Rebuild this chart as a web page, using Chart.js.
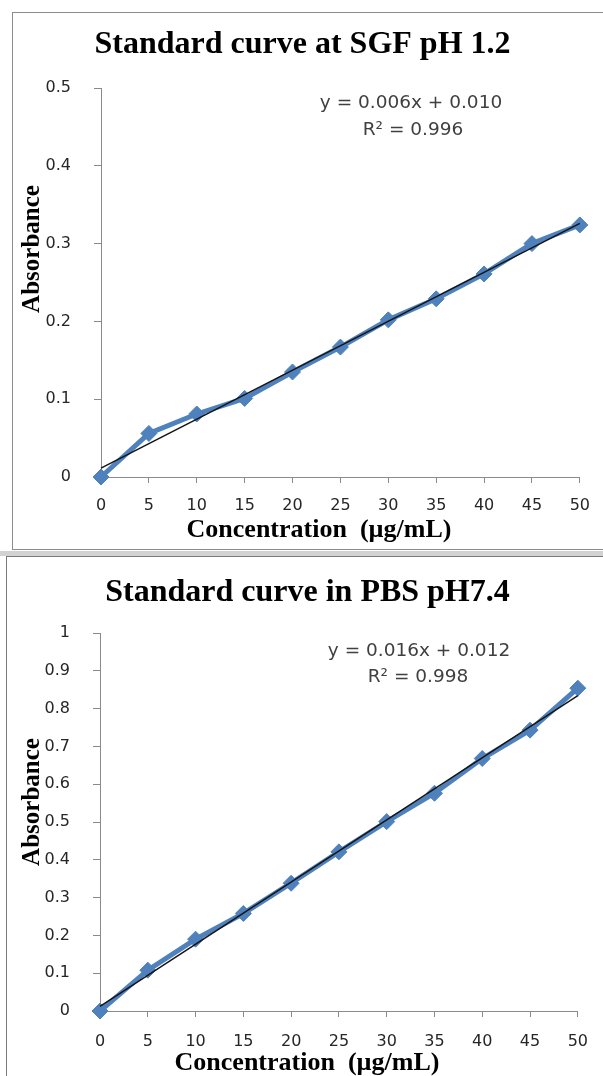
<!DOCTYPE html>
<html><head><meta charset="utf-8">
<script src="https://cdn.jsdelivr.net/npm/chart.js@4.4.1/dist/chart.umd.min.js"></script>
<style>
html,body{margin:0;padding:0;background:#fff;width:603px;height:1076px;overflow:hidden;position:relative;}
.panel{position:absolute;box-sizing:border-box;}
#p1{left:12px;top:12px;width:640px;height:538px;border:1px solid #8c8c8c;}
#band{left:0;top:551px;width:603px;height:5px;background:#d2d2d2;}
#p2{left:6px;top:556px;width:640px;height:560px;border:1px solid #7a7a7a;}
canvas{position:absolute;left:0;}
#c1{top:0}
#c2{top:552px}
</style></head><body>
<div class="panel" id="p1"></div>
<div class="panel" id="band"></div>
<div class="panel" id="p2"></div>
<canvas id="c1" width="603" height="552"></canvas>
<canvas id="c2" width="603" height="534"></canvas>
<script>
// ---- data ----
const concentration = [0, 5, 10, 15, 20, 25, 30, 35, 40, 45, 50];
const absorbanceSGF = [0, 0.056, 0.081, 0.101, 0.135, 0.167, 0.202, 0.229, 0.261, 0.300, 0.324];
const absorbancePBS = [0, 0.108, 0.190, 0.258, 0.338, 0.421, 0.501, 0.576, 0.668, 0.743, 0.854];
const xTickLabels = ['0', '5', '10', '15', '20', '25', '30', '35', '40', '45', '50'];
const yTickLabelsSGF = ['0', '0.1', '0.2', '0.3', '0.4', '0.5'];
const yTickLabelsPBS = ['0', '0.1', '0.2', '0.3', '0.4', '0.5', '0.6', '0.7', '0.8', '0.9', '1'];
const titleSGF = 'Standard curve at SGF pH 1.2';
const titlePBS = 'Standard curve in PBS pH7.4';
const xAxisTitle = 'Concentration  (µg/mL)';
const yAxisTitle = 'Absorbance';
const equationSGF = ['y = 0.006x + 0.010', 'R² = 0.996'];
const equationPBS = ['y = 0.016x + 0.012', 'R² = 0.998'];

Chart.defaults.font.family = "'DejaVu Sans', sans-serif";

function linFit(xs, ys) {
  const n = xs.length;
  const mx = xs.reduce((a, b) => a + b, 0) / n;
  const my = ys.reduce((a, b) => a + b, 0) / n;
  let sxy = 0, sxx = 0;
  for (let i = 0; i < n; i++) { sxy += (xs[i] - mx) * (ys[i] - my); sxx += (xs[i] - mx) ** 2; }
  const m = sxy / sxx;
  return { m, b: my - m * mx };
}

const textPlugin = {
  id: 'textPlugin',
  afterDraw(chart, args, opts) {
    const ctx = chart.ctx;
    (opts.items || []).forEach(it => {
      ctx.save();
      ctx.font = it.font;
      ctx.fillStyle = it.color;
      ctx.textAlign = 'center';
      ctx.textBaseline = 'middle';
      ctx.translate(it.x, it.y);
      if (it.rotate) ctx.rotate(it.rotate);
      ctx.fillText(it.text, 0, 0);
      ctx.restore();
    });
  }
};

const AXIS = '#8a8a8a';
const BLUE = '#4F81BD';

function makeChart(id, cfg) {
  const fit = linFit(concentration, cfg.values);
  const x0 = concentration[0], x1 = concentration[concentration.length - 1];
  const pts = concentration.map((c, i) => ({ x: c, y: cfg.values[i] }));
  const trend = [{ x: x0, y: fit.m * x0 + fit.b }, { x: x1, y: fit.m * x1 + fit.b }];
  return new Chart(document.getElementById(id), {
    type: 'line',
    data: {
      datasets: [
        { data: trend, borderColor: '#141414', borderWidth: 1.5, pointRadius: 0, order: 0, clip: false },
        { data: pts, borderColor: BLUE, borderWidth: 5, pointStyle: 'rectRot', pointRadius: 8,
          pointBackgroundColor: BLUE, pointBorderColor: BLUE, pointBorderWidth: 1, order: 1, clip: false }
      ]
    },
    options: {
      responsive: false,
      devicePixelRatio: 1,
      animation: false,
      events: [],
      layout: { padding: { left: cfg.padLeft, right: 16, top: 0, bottom: 0 } },
      plugins: {
        legend: { display: false },
        tooltip: { enabled: false },
        title: {
          display: true, text: cfg.title, color: '#000',
          font: { family: "'Liberation Serif', 'Times New Roman', serif", size: 32, weight: 'bold', lineHeight: 1.2 },
          padding: { top: cfg.titleTop, bottom: cfg.titleBottom }
        },
        textPlugin: { items: cfg.texts }
      },
      scales: {
        x: {
          type: 'linear', min: 0, max: 50,
          ticks: { stepSize: 5, padding: cfg.xPad, color: '#262626', font: { size: 16, lineHeight: 1.2 },
                   callback: (v, i) => xTickLabels[i] },
          grid: { drawOnChartArea: false, drawTicks: true, tickLength: 6, color: AXIS, tickColor: AXIS },
          border: { color: AXIS, width: 1 },
          afterFit: s => { s.height = cfg.xHeight; }
        },
        y: {
          type: 'linear', min: 0, max: cfg.yMax,
          ticks: { stepSize: 0.1, padding: 23, color: '#262626', font: { size: 16, lineHeight: 1.2 },
                   callback: (v, i) => cfg.yLabels[i] },
          grid: { drawOnChartArea: false, drawTicks: true, tickLength: 7, color: AXIS, tickColor: AXIS },
          border: { color: AXIS, width: 1 },
          afterFit: s => { s.width = cfg.yWidth; }
        }
      }
    },
    plugins: [textPlugin]
  });
}

const serifB = (px) => "bold " + px + "px 'Liberation Serif', 'Times New Roman', serif";
const eqFont = "18.5px 'DejaVu Sans', sans-serif";

makeChart('c1', {
  values: absorbanceSGF, title: titleSGF, yMax: 0.5, yLabels: yTickLabelsSGF,
  padLeft: 18, yWidth: 83, titleTop: 26, titleBottom: 23.6, xHeight: 75, xPad: 13,
  texts: [
    { text: equationSGF[0], x: 411, y: 103, font: eqFont, color: '#404040' },
    { text: equationSGF[1], x: 413, y: 130, font: eqFont, color: '#404040' },
    { text: xAxisTitle, x: 319, y: 530, font: serifB(26), color: '#000' },
    { text: yAxisTitle, x: 33, y: 249, font: serifB(25), color: '#000', rotate: -Math.PI / 2 }
  ]
});

makeChart('c2', {
  values: absorbancePBS, title: titlePBS, yMax: 1, yLabels: yTickLabelsPBS,
  padLeft: 28, yWidth: 72, titleTop: 21.8, titleBottom: 20.8, xHeight: 75, xPad: 15,
  texts: [
    { text: equationPBS[0], x: 419, y: 651 - 552, font: eqFont, color: '#404040' },
    { text: equationPBS[1], x: 418, y: 677 - 552, font: eqFont, color: '#404040' },
    { text: xAxisTitle, x: 307, y: 1063 - 552, font: serifB(26), color: '#000' },
    { text: yAxisTitle, x: 33, y: 802 - 552, font: serifB(25), color: '#000', rotate: -Math.PI / 2 }
  ]
});
</script>
</body></html>
